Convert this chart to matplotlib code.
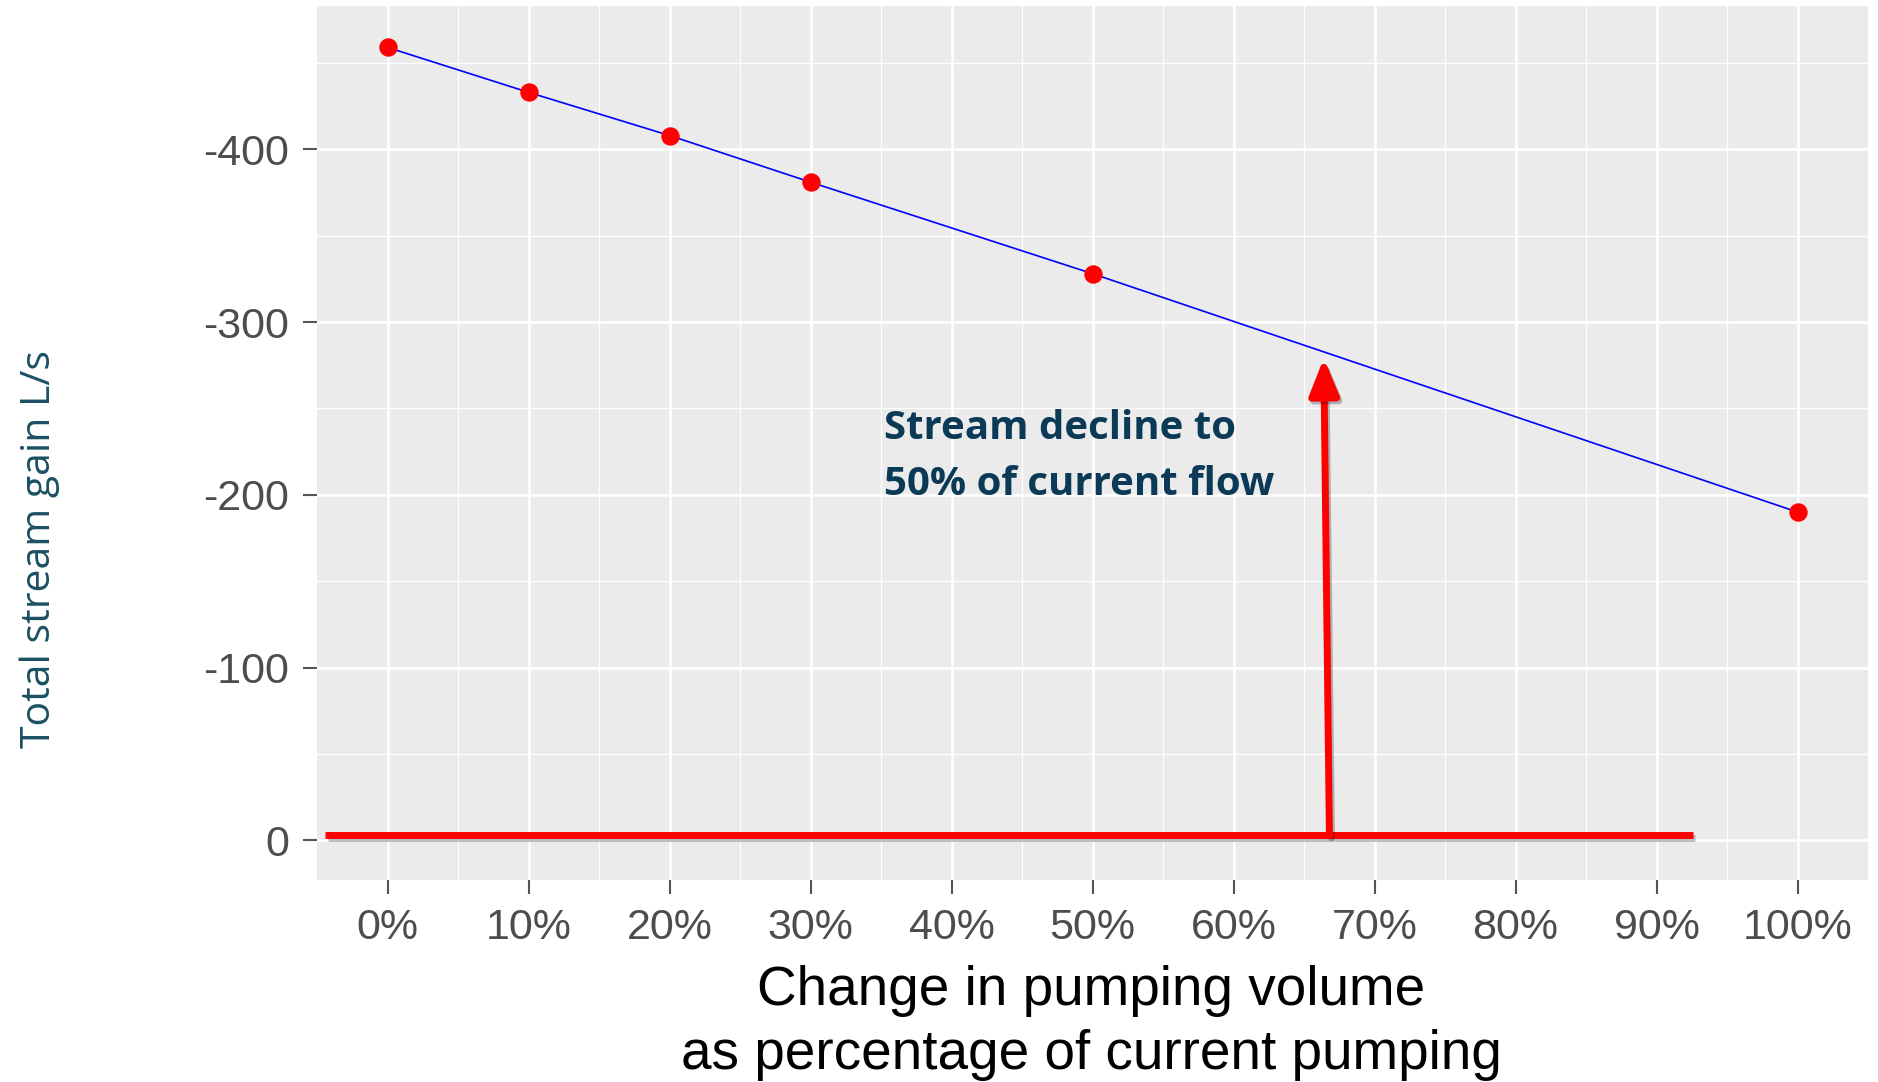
import numpy as np
import matplotlib.pyplot as plt
import matplotlib.patheffects as pe

# data
pumping_pct = [0, 10, 20, 30, 50, 100]
stream_gain = [-459, -433, -408, -381, -328, -190]

x_ticks = [0, 10, 20, 30, 40, 50, 60, 70, 80, 90, 100]
x_labels = [f"{t}%" for t in x_ticks]
y_ticks = [0, -100, -200, -300, -400]
y_labels = ["0", "-100", "-200", "-300", "-400"]

# reference line at zero and the arrow up to the fitted line
zero_line_x = [-4.4, 92.6]
zero_line_y = [-3, -3]
arrow_base = (66.8, -3)
arrow_tip = (66.4, -279)

fig = plt.figure(figsize=(18.78, 10.82), dpi=100)
ax = fig.add_axes([0.1688, 0.1867, 0.8259, 0.8078])

ax.set_facecolor("#EBEBEB")
for s in ax.spines.values():
    s.set_visible(False)

ax.set_xlim(-5, 105)
ax.set_ylim(23, -483)

# ggplot-like grid
ax.set_xticks(x_ticks)
ax.set_xticks(np.arange(5, 100, 10), minor=True)
ax.set_yticks(y_ticks)
ax.set_yticks([-50, -150, -250, -350, -450], minor=True)
ax.grid(which="major", color="white", linewidth=1.8)
ax.grid(which="minor", color="white", linewidth=0.9)
ax.set_axisbelow(True)

ax.set_xticklabels(x_labels, fontsize=31, color="#4D4D4D", family="Liberation Sans")
ax.set_yticklabels(y_labels, fontsize=31, color="#4D4D4D", family="Liberation Sans")
ax.tick_params(which="major", length=10, width=1.5, color="#555555", pad=10)
ax.tick_params(which="minor", length=0)

ax.plot(pumping_pct, stream_gain, color="blue", linewidth=1.2, zorder=3)
ax.scatter(pumping_pct, stream_gain, color="red", s=150, zorder=4)

# red baseline with a soft shadow
ax.plot(zero_line_x, zero_line_y, color="red", linewidth=5, solid_capstyle="butt",
        zorder=5, path_effects=[pe.SimpleLineShadow(offset=(1.5, -2), alpha=0.25),
                                pe.Normal()])

ax.annotate("", xy=arrow_tip, xytext=arrow_base, zorder=5,
            arrowprops=dict(arrowstyle="-|>,head_length=2.2,head_width=0.9",
                            color="red", linewidth=5, shrinkA=0, shrinkB=0,
                            path_effects=[pe.SimpleLineShadow(offset=(1.5, -2), alpha=0.25),
                                          pe.Normal()]))

ax.text(35.2, -222, "Stream decline to\n50% of current flow", fontsize=29,
        fontweight="bold", color="#0B3A56", family="Open Sans",
        ha="left", va="center", linespacing=1.58)

fig.text(0.021, 0.493, "Total stream gain L/s", rotation=90, fontsize=29.5,
         color="#1B4F63", family="Open Sans", ha="center", va="center")
fig.text(0.581, 0.0545, "Change in pumping volume\nas percentage of current pumping",
         fontsize=39.5, color="black", family="Liberation Sans",
         ha="center", va="center", linespacing=1.28)

fig.savefig("out.png", dpi=100)
